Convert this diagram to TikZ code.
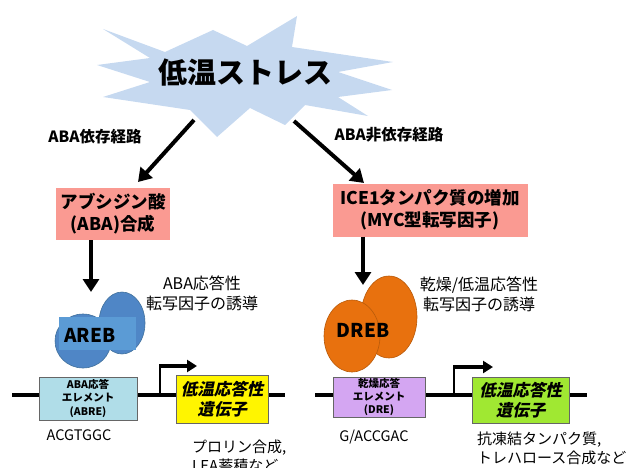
\documentclass[tikz,border=0pt]{standalone}
\usepackage{fontspec}
\setmainfont{Noto Sans CJK JP}
\newfontfamily\slantjp{Noto Sans CJK JP}[FakeSlant=0.22]
\usetikzlibrary{arrows.meta}

\definecolor{burst}{HTML}{C6D9F0}
\definecolor{pinkbox}{HTML}{FA9A92}
\definecolor{areb}{HTML}{4F86C6}
\definecolor{arebmid}{HTML}{5B9BD5}
\definecolor{arebline}{HTML}{41719C}
\definecolor{dreb}{HTML}{E8710E}
\definecolor{drebline}{HTML}{B85A0A}
\definecolor{abrefill}{HTML}{B0DDE8}
\definecolor{drefill}{HTML}{D4A6F2}
\definecolor{geneyellow}{HTML}{FFF500}
\definecolor{genegreen}{HTML}{A0E832}

\newcommand{\fsz}[1]{\fontsize{#1pt}{\dimexpr #1pt*5/4\relax}\selectfont}

\tikzset{
  bigarrow/.style={line width=4pt, -{Triangle[length=13pt,width=16pt]}},
  pathlabel/.style={font=\fsz{15.5}\bfseries, inner sep=0pt},
  pinkstep/.style={fill=pinkbox, inner sep=0pt, font=\fsz{17.5}\bfseries, align=center},
  infolabel/.style={font=\fsz{16}, align=center, inner sep=0pt},
  seqlabel/.style={font=\fsz{14.5}, inner sep=0pt},
  elembox/.style={draw=gray!80!black, line width=0.6pt, inner sep=0pt, font=\fsz{10.5}\bfseries, align=center},
  genebox/.style={draw=gray!80!black, line width=0.6pt, inner sep=0pt, font=\fsz{16.5}\slantjp\bfseries, align=center},
  dna/.style={line width=4.5pt},
  tfname/.style={font=\fsz{19}\bfseries, inner sep=0pt},
  promoter/.style={line width=1.2pt},
  tss/.style={line width=4pt, -{Triangle[length=10pt,width=12pt]}}
}

\begin{document}
\begin{tikzpicture}[x=1pt,y=-1pt]
\useasboundingbox (0,0) rectangle (626,468);

% cold stress starburst
\fill[burst] (103,29) -- (165,52) -- (213,30) -- (247,46) -- (297,16) -- (292,47)
  -- (393,62) -- (338,72) -- (392,90) -- (338,97) -- (368,116) -- (305,105)
  -- (285,125) -- (250,108) -- (217,137) -- (190,110) -- (103,97) -- (150,82)
  -- (97,65) -- (150,58) -- cycle;
\node[font=\fsz{29}\bfseries, inner sep=0pt] (stress) at (245,73) {低温ストレス};

% two pathways
\coordinate (lstart) at (194,120);
\coordinate (rstart) at (294,121);
\node[pathlabel] (ldep) at (95,137) {ABA依存経路};
\node[pathlabel] (rindep) at (389,135) {ABA非依存経路};

\node[pinkstep, minimum width=114pt, minimum height=52pt] (aba) at (113,214)
  {アブシジン酸\\(ABA)合成};
\node[pinkstep, minimum width=195pt, minimum height=53pt] (ice) at (430,210)
  {ICE1タンパク質の増加\\(MYC型転写因子)};

\draw[bigarrow] (lstart) -- (138,182);
\draw[bigarrow] (rstart) -- (364,183);

% AREB transcription factor
\coordinate (arebtop) at (91,292);
\draw[bigarrow] (aba.south -| arebtop) -- (arebtop);
\filldraw[fill=areb, draw=arebline, line width=0.6pt] (122,323) ellipse [x radius=23, y radius=31];
\filldraw[fill=areb, draw=arebline, line width=0.6pt] (83,341) ellipse [x radius=28, y radius=27];
\fill[arebmid] (59,317) rectangle (136,350);
\node[tfname] (arebname) at (90,335) {AREB};
\node[infolabel] (arebinfo) at (202,293) {ABA応答性\\転写因子の誘導};

% DREB transcription factor
\coordinate (drebtop) at (363,285);
\draw[bigarrow] (ice.south -| drebtop) -- (drebtop);
\filldraw[fill=dreb, draw=drebline, line width=0.6pt] (389,317) ellipse [x radius=28, y radius=41];
\filldraw[fill=dreb, draw=drebline, line width=0.6pt] (352,336) ellipse [x radius=28, y radius=36];
\node[tfname] (drebname) at (363,330) {DREB};
\node[infolabel] (drebinfo) at (479,294) {乾燥/低温応答性\\転写因子の誘導};

% left promoter region
\coordinate (ldnaA) at (12,395);
\coordinate (ldnaB) at (285,395);
\draw[dna] (ldnaA) -- (ldnaB);
\node[elembox, fill=abrefill, minimum width=98pt, minimum height=43pt] (abre) at (88,398.5)
  {ABA応答\\エレメント\\(ABRE)};
\node[genebox, fill=geneyellow, minimum width=92pt, minimum height=48pt] (lgene) at (222,399)
  {低温応答性\\遺伝子};
\coordinate (ltssbase) at (160,395);
\coordinate (ltsstop) at (160,366);
\draw[promoter] (ltssbase) -- (ltsstop);
\draw[tss] ([xshift=-0.6pt]ltsstop) -- (197,366);
\node[seqlabel] (abreseq) at (79,435) {ACGTGGC};
\node[infolabel, font=\fsz{15}, align=left, anchor=north west] (lprod) at (192,440)
  {プロリン合成,\\LEA蓄積など};

% right promoter region
\coordinate (rdnaA) at (315,395);
\coordinate (rdnaB) at (587,395);
\draw[dna] (rdnaA) -- (rdnaB);
\node[elembox, fill=drefill, minimum width=92pt, minimum height=40pt] (dre) at (379,397)
  {乾燥応答\\エレメント\\(DRE)};
\node[genebox, fill=genegreen, minimum width=97pt, minimum height=46pt] (rgene) at (520.5,400)
  {低温応答性\\遺伝子};
\coordinate (rtssbase) at (454,395);
\coordinate (rtsstop) at (454,367);
\draw[promoter] (rtssbase) -- (rtsstop);
\draw[tss] ([xshift=-0.6pt]rtsstop) -- (493,367);
\node[seqlabel] (dreseq) at (374,437) {G/ACCGAC};
\node[infolabel, font=\fsz{15}, align=left, anchor=north west] (rprod) at (477,432)
  {抗凍結タンパク質,\\トレハロース合成など};
\end{tikzpicture}
\end{document}
